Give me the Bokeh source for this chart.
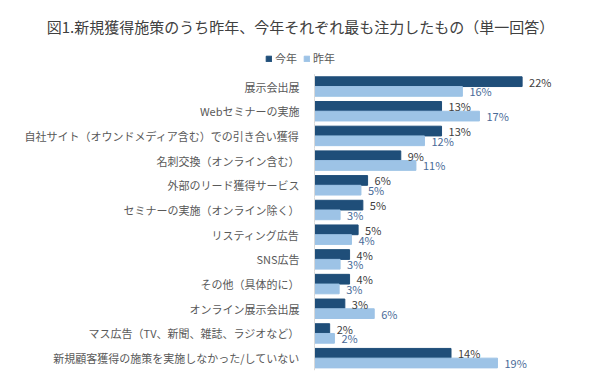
from bokeh.plotting import figure
from bokeh.models import ColumnDataSource, FactorRange, Range1d, Legend, LegendItem
from bokeh.transform import dodge
from bokeh.core.properties import value
from bokeh.embed import file_html
from bokeh.resources import INLINE

# ---- data ----
title_text = "図1.新規獲得施策のうち昨年、今年それぞれ最も注力したもの（単一回答）"
categories = [
    "展示会出展",
    "Webセミナーの実施",
    "自社サイト（オウンドメディア含む）での引き合い獲得",
    "名刺交換（オンライン含む）",
    "外部のリード獲得サービス",
    "セミナーの実施（オンライン除く）",
    "リスティング広告",
    "SNS広告",
    "その他（具体的に）",
    "オンライン展示会出展",
    "マス広告（TV、新聞、雑誌、ラジオなど）",
    "新規顧客獲得の施策を実施しなかった/していない",
]
series_names = ["今年", "昨年"]
this_year = [21.9, 13.4, 13.4, 9.1, 5.6, 5.1, 4.6, 3.7, 3.7, 3.2, 1.6, 14.4]
last_year = [15.6, 17.4, 11.6, 10.7, 4.9, 2.7, 3.9, 2.7, 2.6, 6.3, 2.1, 19.3]

DARK = "#1f4e79"
LIGHT = "#9dc3e6"
FONT = "Noto Sans CJK JP"

W, H = 600, 377
AXIS_PX = 314          # horizontal pixel position of the value axis
PX_PER_UNIT = 9.48     # pixels per percentage point
LEGEND_ROW = "\u200b"  # empty band at the top that holds the legend

src = ColumnDataSource(dict(
    cat=categories,
    zero=[0] * len(categories),
    this_year=this_year,
    last_year=last_year,
    this_lbl=[f"{round(v)}%" for v in this_year],
    last_lbl=[f"{round(v)}%" for v in last_year],
))

p = figure(
    width=W, height=H,
    y_range=FactorRange(factors=categories[::-1] + [LEGEND_ROW], range_padding=0),
    x_range=Range1d(-AXIS_PX / PX_PER_UNIT, (W - AXIS_PX) / PX_PER_UNIT),
    output_backend="svg", toolbar_location=None,
    min_border_left=0, min_border_right=0,
    min_border_top=49, min_border_bottom=7,
)
p.outline_line_color = None
p.background_fill_color = "white"
p.border_fill_color = "white"
p.xaxis.visible = False
p.yaxis.visible = False
p.xgrid.grid_line_color = None
p.ygrid.grid_line_color = None

BH = 0.394
OFF = 0.197
r1 = p.hbar(y=dodge("cat", OFF, range=p.y_range), right="this_year", left=0,
            height=BH, color=DARK, source=src)
r2 = p.hbar(y=dodge("cat", -OFF, range=p.y_range), right="last_year", left=0,
            height=BH, color=LIGHT, source=src)

# value-axis line (one piece per category band)
p.segment(x0="zero", x1="zero", y0=dodge("cat", -0.5, range=p.y_range),
          y1=dodge("cat", 0.5, range=p.y_range), line_color="#d9d9d9",
          line_width=1, source=src)

# category labels
p.text(x="zero", y="cat", text="cat", x_offset=-15, text_align="right",
       text_baseline="middle", text_font=value(FONT), text_font_size=value("11px"),
       text_color="#595959", source=src)

# data labels
p.text(x="this_year", y=dodge("cat", OFF, range=p.y_range), text="this_lbl",
       x_offset=7, text_align="left", text_baseline="middle",
       text_font=value(FONT), text_font_size=value("11px"), text_color="#404040",
       source=src)
p.text(x="last_year", y=dodge("cat", -OFF, range=p.y_range), text="last_lbl",
       x_offset=7, text_align="left", text_baseline="middle",
       text_font=value(FONT), text_font_size=value("11px"), text_color="#4a6b98",
       source=src)

# legend (inside the top band of the frame)
legend = Legend(
    items=[LegendItem(label=series_names[0], renderers=[r1]),
           LegendItem(label=series_names[1], renderers=[r2])],
    orientation="horizontal", location=(265, 304),
    glyph_width=7, glyph_height=7, label_standoff=3, spacing=6,
    label_height=14, label_text_font=FONT, label_text_font_size="11px",
    label_text_color="#595959", padding=0, margin=0,
    border_line_color=None, background_fill_alpha=0,
)
p.add_layout(legend, "center")

# title
p.title.text = title_text
p.title.align = "center"
p.title.offset = 2
p.title.standoff = 26
p.title.text_font = FONT
p.title.text_font_size = "15px"
p.title.text_font_style = "normal"
p.title.text_color = "#404040"

open("out.html", "w").write(file_html(p, INLINE))
